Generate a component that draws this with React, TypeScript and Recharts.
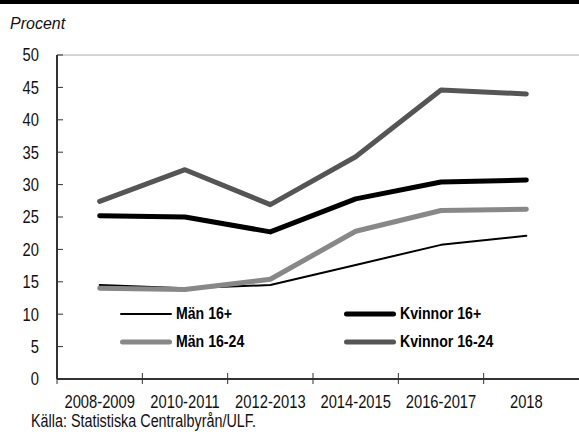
import React from 'react'
import { LineChart, Line, XAxis, YAxis, ReferenceLine, Legend } from 'recharts'

const periods = ['2008-2009', '2010-2011', '2012-2013', '2014-2015', '2016-2017', '2018']
const manAll = [14.5, 14.0, 14.5, 17.6, 20.7, 22.1]
const womenAll = [25.2, 25.0, 22.7, 27.8, 30.4, 30.7]
const manYoung = [14.0, 13.8, 15.4, 22.8, 26.0, 26.2]
const womenYoung = [27.4, 32.3, 26.9, 34.3, 44.6, 44.0]
const yTicks = [0, 5, 10, 15, 20, 25, 30, 35, 40, 45, 50]

const data = periods.map((period, i) => ({
    period,
    manAll: manAll[i],
    womenAll: womenAll[i],
    manYoung: manYoung[i],
    womenYoung: womenYoung[i],
}))

// series in drawing order (later ones on top), also the legend order
const series = [
    { key: 'manAll', name: 'Män 16+', color: '#000000', width: 2 },
    { key: 'womenAll', name: 'Kvinnor 16+', color: '#000000', width: 5 },
    { key: 'manYoung', name: 'Män 16-24', color: '#888888', width: 5 },
    { key: 'womenYoung', name: 'Kvinnor 16-24', color: '#555555', width: 5 },
]

const W = 579
const H = 435
const LEFT = 57
const PAD_RIGHT = 10
const HALF_BAND = (W - LEFT - PAD_RIGHT) / periods.length / 2
// no narrow font installed, so squeeze Liberation Sans horizontally
const FONT = '"Liberation Sans", Arial, sans-serif'
const NARROW = 0.82

const XTick = (props: any) => {
    const { x, y, payload } = props
    const bx = x - HALF_BAND // tick marks sit between categories
    return (
        <g>
            <line x1={bx} x2={bx} y1={y - 6} y2={y + 5} stroke='#333' strokeWidth={1} />
            <text
                transform={`translate(${x} ${y + 29}) scale(${NARROW} 1)`}
                textAnchor='middle'
                fontFamily={FONT}
                fontSize={18}
                fill='#111'
            >
                {payload.value}
            </text>
        </g>
    )
}

const YTick = (props: any) => {
    const { x, y, payload } = props
    return (
        <g>
            <line x1={x} x2={x + 6} y1={y} y2={y} stroke='#333' strokeWidth={1} />
            <text
                transform={`translate(${x - 18} ${y}) scale(${NARROW} 1)`}
                dy='0.36em'
                textAnchor='end'
                fontFamily={FONT}
                fontSize={18}
                fill='#111'
            >
                {payload.value}
            </text>
        </g>
    )
}

const LegendBox = () => (
    <div
        style={{
            display: 'grid',
            gridTemplateColumns: '224px 180px',
            fontFamily: FONT,
            fontWeight: 'bold',
            fontSize: 17,
            color: '#000',
        }}
    >
        {series.map(s => (
            <div key={s.key} style={{ display: 'flex', alignItems: 'center', height: 28 }}>
                <svg width={54} height={10} style={{ marginRight: 3 }}>
                    <line
                        x1={s.width / 2 + 1}
                        x2={53 - s.width / 2}
                        y1={5}
                        y2={5}
                        stroke={s.color}
                        strokeWidth={s.width}
                        strokeLinecap='round'
                    />
                </svg>
                <span
                    style={{
                        display: 'inline-block',
                        whiteSpace: 'nowrap',
                        transform: `scaleX(0.83)`,
                        transformOrigin: 'left center',
                    }}
                >
                    {s.name}
                </span>
            </div>
        ))}
    </div>
)

export default function App() {
    return (
        <div style={{ position: 'absolute', left: 0, top: 0, width: W, height: H, background: '#fff' }}>
            <div style={{ position: 'absolute', left: 0, top: 0, width: W, height: 4, background: '#000' }} />
            <div
                style={{
                    position: 'absolute',
                    left: 10,
                    top: 16,
                    fontFamily: FONT,
                    fontStyle: 'italic',
                    fontSize: 16,
                    lineHeight: '16px',
                    color: '#111',
                }}
            >
                Procent
            </div>
            <LineChart width={W} height={H} data={data} margin={{ top: 55, right: 0, bottom: 0, left: 0 }}>
                <XAxis
                    dataKey='period'
                    scale='band'
                    interval={0}
                    height={56}
                    padding={{ left: 0, right: PAD_RIGHT }}
                    axisLine={{ stroke: '#333', strokeWidth: 2 }}
                    tickLine={false}
                    tickSize={0}
                    tickMargin={0}
                    tick={<XTick />}
                />
                <YAxis
                    width={LEFT}
                    domain={[0, 50]}
                    ticks={yTicks}
                    interval={0}
                    axisLine={{ stroke: '#333', strokeWidth: 2 }}
                    tickLine={false}
                    tickSize={0}
                    tickMargin={0}
                    tick={<YTick />}
                />
                <ReferenceLine y={50} stroke='#aaaaaa' strokeWidth={1} />
                {series.map(s => (
                    <Line
                        key={s.key}
                        type='linear'
                        dataKey={s.key}
                        name={s.name}
                        stroke={s.color}
                        strokeWidth={s.width}
                        strokeLinecap='round'
                        strokeLinejoin='round'
                        dot={false}
                        activeDot={false}
                        isAnimationActive={false}
                    />
                ))}
                <Legend
                    layout='vertical'
                    align='center'
                    verticalAlign='middle'
                    content={<LegendBox />}
                    wrapperStyle={{ left: 119, top: 300, width: 420 }}
                />
            </LineChart>
            <div
                style={{
                    position: 'absolute',
                    left: 31,
                    top: 413,
                    fontFamily: FONT,
                    fontSize: 17.5,
                    lineHeight: '17.5px',
                    color: '#111',
                    whiteSpace: 'nowrap',
                    transform: `scaleX(${NARROW})`,
                    transformOrigin: 'left top',
                }}
            >
                Källa: Statistiska Centralbyrån/ULF.
            </div>
        </div>
    )
}
